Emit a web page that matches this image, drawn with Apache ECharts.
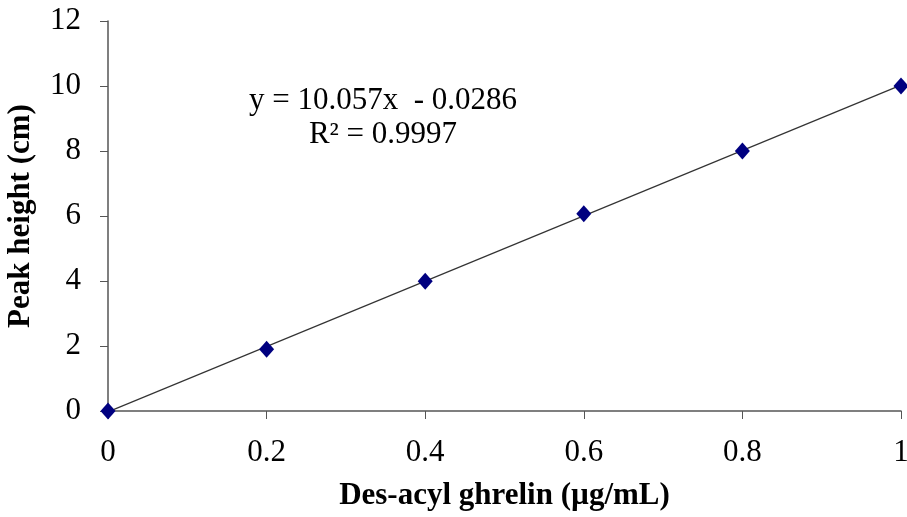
<!DOCTYPE html>
<html>
<head>
<meta charset="utf-8">
<script src="https://cdn.jsdelivr.net/npm/echarts@6/dist/echarts.min.js"></script>
<style>
  html, body { margin: 0; padding: 0; background: #fff; }
  #chart { width: 907px; height: 517px; }
</style>
</head>
<body>
<div id="chart"></div>
<script>
// calibration data
var concentrations = [0, 0.2, 0.4, 0.6, 0.8, 1];
var peakHeights = [0, 1.9, 3.99, 6.07, 8.0, 10.0];
var slope = 10.057;
var intercept = -0.0286;

var points = concentrations.map(function (c, i) { return [c, peakHeights[i]]; });
var fitLine = [0, 1].map(function (x) { return [x, slope * x + intercept]; });

var font = '"Liberation Serif", "Times New Roman", serif';
var chart = echarts.init(document.getElementById('chart'));

chart.setOption({
  animation: false,
  grid: { left: 108, right: 6, top: 21, bottom: 106, outerBoundsMode: 'none', containLabel: false },
  xAxis: {
    type: 'value',
    min: 0, max: 1, interval: 0.2,
    name: 'Des-acyl ghrelin (µg/mL)',
    nameLocation: 'middle',
    nameGap: 69,
    nameTextStyle: { fontFamily: font, fontSize: 31, fontWeight: 'bold', color: '#000' },
    axisLine: { lineStyle: { color: '#555', width: 1.5 } },
    axisTick: { show: true, length: 8, lineStyle: { color: '#555' } },
    axisLabel: { fontFamily: font, fontSize: 31, color: '#000', margin: 26 },
    splitLine: { show: false }
  },
  yAxis: {
    type: 'value',
    min: 0, max: 12, interval: 2,
    name: 'Peak height (cm)',
    nameLocation: 'middle',
    nameGap: 72,
    nameTextStyle: { fontFamily: font, fontSize: 31, fontWeight: 'bold', color: '#000' },
    axisLine: { show: true, lineStyle: { color: '#555', width: 1.5 } },
    axisTick: { show: true, length: 8, lineStyle: { color: '#555' } },
    axisLabel: { fontFamily: font, fontSize: 31, color: '#000', margin: 27 },
    splitLine: { show: false }
  },
  series: [
    {
      type: 'line',
      data: fitLine,
      symbol: 'none',
      lineStyle: { color: '#333', width: 1.2 },
      silent: true,
      z: 1
    },
    {
      type: 'scatter',
      data: points,
      symbol: 'diamond',
      symbolSize: [15, 17],
      itemStyle: { color: '#000080', opacity: 1 },
      z: 2
    }
  ],
  graphic: [
    {
      type: 'text',
      x: 383, y: 101,
      style: { text: 'y = 10.057x  - 0.0286', fontFamily: font, fontSize: 31, fill: '#000', align: 'center', verticalAlign: 'middle' }
    },
    {
      type: 'text',
      x: 383, y: 135,
      style: { text: 'R² = 0.9997', fontFamily: font, fontSize: 31, fill: '#000', align: 'center', verticalAlign: 'middle' }
    }
  ]
});
</script>
</body>
</html>
